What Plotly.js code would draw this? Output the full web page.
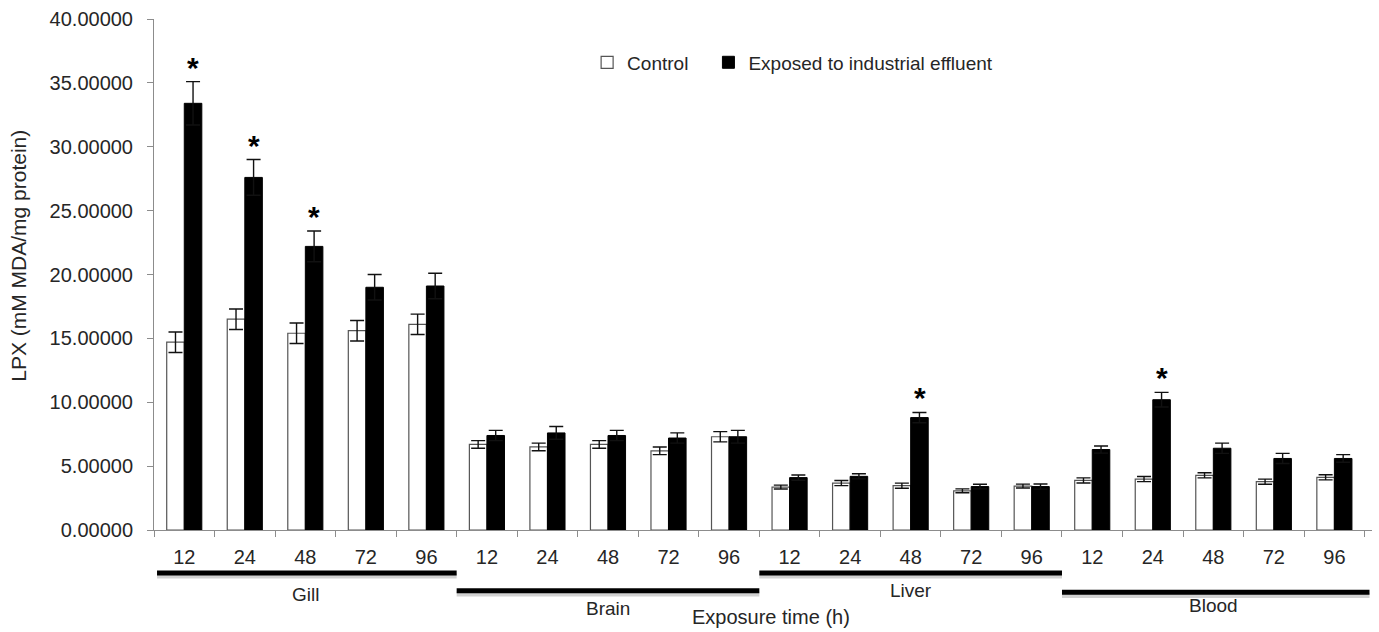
<!DOCTYPE html>
<html>
<head>
<meta charset="utf-8">
<script src="https://cdn.plot.ly/plotly-3.0.1.min.js"></script>
<style>html,body{margin:0;padding:0;background:#fff;}#chart{width:1379px;height:632px;}</style>
</head>
<body>
<div id="chart"></div>
<script>
// ---- data ----
const organs = ['Gill', 'Brain', 'Liver', 'Blood'];
const times = ['12', '24', '48', '72', '96'];
const control    = [14.7, 16.5, 15.4, 15.6, 16.1,  6.7, 6.5, 6.7, 6.2, 7.3,  3.36, 3.67, 3.47, 3.07, 3.44,  3.88, 3.99, 4.28, 3.78, 4.12];
const controlErr = [0.8, 0.8, 0.8, 0.8, 0.8,  0.3, 0.3, 0.3, 0.3, 0.4,  0.15, 0.2, 0.2, 0.15, 0.15,  0.2, 0.2, 0.2, 0.2, 0.2];
const exposed    = [33.4, 27.6, 22.2, 19.0, 19.1,  7.4, 7.6, 7.4, 7.2, 7.3,  4.1, 4.2, 8.8, 3.4, 3.4,  6.3, 10.2, 6.4, 5.6, 5.6];
const exposedErr = [1.7, 1.4, 1.2, 1.0, 1.0,  0.4, 0.5, 0.4, 0.4, 0.5,  0.2, 0.2, 0.4, 0.18, 0.2,  0.28, 0.57, 0.4, 0.4, 0.3];
const significant = [true, true, true, false, false,  false, false, false, false, false,  false, false, true, false, false,  false, true, false, false, false];
const seriesNames = ['Control', 'Exposed to industrial effluent'];
const yTitle = 'LPX (mM MDA/mg protein)';
const xTitle = 'Exposure time (h)';

// ---- build ----
const keys = [];
const tickText = [];
organs.forEach(o => times.forEach(t => { keys.push(o + ' ' + t); tickText.push(t); }));

const FONT = 'Liberation Sans, Arial, sans-serif';
const TXT = '#262626';

const traces = [
  {
    type: 'bar', name: seriesNames[0], x: keys, y: control, legend: 'legend',
    marker: {color: '#ffffff', line: {color: '#555555', width: 1.2}},
    error_y: {type: 'data', array: controlErr, visible: true, color: '#111', thickness: 1.4, width: 7}
  },
  {
    type: 'bar', name: seriesNames[1], x: keys, y: exposed, legend: 'legend2',
    marker: {color: '#000000', line: {color: '#000000', width: 1}},
    error_y: {type: 'data', array: exposedErr, visible: true, color: '#111', thickness: 1.4, width: 7}
  }
];

const annotations = [];
keys.forEach((k, i) => {
  if (significant[i]) {
    annotations.push({
      x: k, y: exposed[i] + exposedErr[i], xref: 'x', yref: 'y',
      xshift: 9, yshift: -4,
      text: '<b>*</b>', showarrow: false, yanchor: 'bottom',
      font: {family: FONT, size: 30, color: '#000'}
    });
  }
});

// group labels and lines under the axis
const lineY = [-0.0841, -0.119, -0.0841, -0.122];
const labelY = [-0.126, -0.153, -0.119, -0.147];
const shapes = [];
organs.forEach((o, g) => {
  const first = g * times.length;
  const x0 = first - 0.5 + (g === 0 ? 0.05 : 0);
  const x1 = first + times.length - 0.5 + (g === 3 ? 0.08 : 0);
  shapes.push({type: 'line', xref: 'x', yref: 'paper', x0: x0, x1: x1, y0: lineY[g] - 0.006, y1: lineY[g] - 0.006,
    line: {color: 'rgba(0,0,0,0.18)', width: 5}});
  shapes.push({type: 'line', xref: 'x', yref: 'paper', x0: x0, x1: x1, y0: lineY[g], y1: lineY[g],
    line: {color: '#000', width: 5}});
  annotations.push({
    x: first + (times.length - 1) / 2, xref: 'x', y: labelY[g], yref: 'paper',
    text: o, showarrow: false, yanchor: 'middle',
    font: {family: FONT, size: 19, color: TXT}
  });
});

annotations.push({
  x: 0.5066, xref: 'paper', y: -0.170, yref: 'paper', text: xTitle, showarrow: false,
  yanchor: 'middle', font: {family: FONT, size: 20, color: TXT}
});
annotations.push({
  x: -0.1115, xref: 'paper', y: 0.537, yref: 'paper', text: yTitle, showarrow: false,
  textangle: -90, xanchor: 'center', yanchor: 'middle', font: {family: FONT, size: 21, color: TXT}
});

const legendBase = {orientation: 'h', y: 0.915, xanchor: 'left', yanchor: 'middle',
  font: {family: FONT, size: 19, color: TXT}, itemwidth: 30, bgcolor: 'rgba(0,0,0,0)'};

const layout = {
  width: 1379, height: 632,
  margin: {l: 154, r: 7, t: 19, b: 102},
  paper_bgcolor: '#fff', plot_bgcolor: '#fff',
  barmode: 'group', bargap: 0.42, bargroupgap: 0,
  font: {family: FONT, size: 20, color: TXT},
  showlegend: true,
  legend: Object.assign({}, legendBase, {x: 0.3556}),
  legend2: Object.assign({}, legendBase, {x: 0.4552}),
  xaxis: {
    type: 'category', tickmode: 'array', tickvals: keys, ticktext: tickText,
    tickson: 'boundaries', ticks: 'outside', ticklen: 6, tickcolor: '#8c8c8c',
    showline: true, linecolor: '#8c8c8c', linewidth: 1, showgrid: false, zeroline: false,
    tickfont: {family: FONT, size: 20, color: TXT}, ticklabelstandoff: 9
  },
  yaxis: {
    range: [0, 40], dtick: 5, tickformat: '.5f',
    ticks: 'outside', ticklen: 6, tickcolor: '#8c8c8c',
    showline: true, linecolor: '#8c8c8c', linewidth: 1, showgrid: false, zeroline: false,
    tickfont: {family: FONT, size: 20, color: TXT}, ticklabelstandoff: 10
  },
  annotations: annotations,
  shapes: shapes
};

Plotly.newPlot('chart', traces, layout, {displayModeBar: false, staticPlot: true});
</script>
</body>
</html>
